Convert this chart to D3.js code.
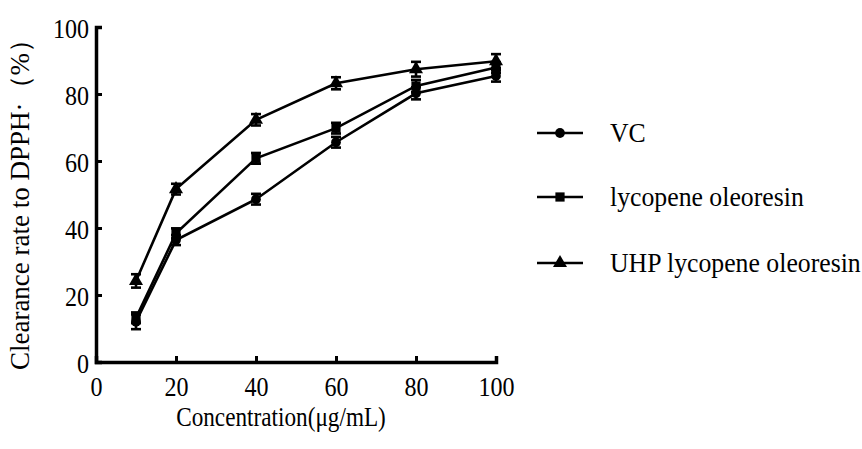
<!DOCTYPE html>
<html><head><meta charset="utf-8">
<script src="https://cdn.jsdelivr.net/npm/d3@7"></script>
<style>body{margin:0;background:#fff}svg{display:block}text{font-family:"Liberation Serif","Times New Roman",serif;fill:#000}</style>
</head><body>
<svg id="c" width="862" height="449"></svg>
<script>
const concentrations = [10, 20, 40, 60, 80, 100];
const seriesNames = ["VC", "lycopene oleoresin", "UHP lycopene oleoresin"];
const vcValues = [12, 36.4, 48.6, 65.6, 80.2, 85.4];
const vcErrors = [2.2, 1.5, 1.6, 1.6, 1.8, 1.7];
const lycValues = [13.2, 38.4, 60.8, 69.8, 82.4, 87.9];
const lycErrors = [1.6, 1.5, 1.6, 1.6, 1.8, 1.6];
const uhpValues = [24.2, 51.6, 72.3, 83.2, 87.4, 89.8];
const uhpErrors = [2.0, 1.6, 1.7, 1.8, 2.2, 2.1];
const xTicks = [0, 20, 40, 60, 80, 100];
const yTicks = [0, 20, 40, 60, 80, 100];

const series = [
  {name: seriesNames[0], values: vcValues, errors: vcErrors, shape: "circle"},
  {name: seriesNames[1], values: lycValues, errors: lycErrors, shape: "square"},
  {name: seriesNames[2], values: uhpValues, errors: uhpErrors, shape: "triangle"}
];

const svg = d3.select("#c");
const x = d3.scaleLinear().domain([0, 100]).range([96, 496]);
const y = d3.scaleLinear().domain([0, 100]).range([362, 27]);
const SX = 0.86;

const symbols = {
  circle: d3.symbol().type(d3.symbolCircle).size(75),
  square: d3.symbol().type(d3.symbolSquare).size(85),
  triangle: d3.symbol().type(d3.symbolTriangle).size(85)
};

// axes
const gx = svg.append("g").attr("transform", `translate(0,${y(0)})`)
  .call(d3.axisBottom(x).tickValues(xTicks).tickSize(-6).tickPadding(0).tickFormat(d3.format("d")));
const gy = svg.append("g").attr("transform", `translate(${x(0)},0)`)
  .call(d3.axisLeft(y).tickValues(yTicks).tickSize(-6).tickPadding(0).tickFormat(d3.format("d")));
[gx, gy].forEach(g => {
  g.select(".domain").attr("stroke", "#000").attr("stroke-width", 3.5);
  g.selectAll(".tick line").attr("stroke", "#000").attr("stroke-width", 3);
  g.selectAll(".tick text").attr("font-size", 28).attr("font-family", "Liberation Serif").attr("fill", "#000");
});
gx.selectAll(".tick text").attr("y", null).attr("dy", null)
  .attr("transform", `translate(0,34) scale(${SX},1)`);
gy.selectAll(".tick text").attr("x", null).attr("dy", null)
  .attr("transform", `translate(-7,10) scale(${SX},1)`);

// lines
const line = d3.line().x((d, i) => x(concentrations[i])).y(d => y(d));
series.forEach(s => {
  svg.append("path").attr("d", line(s.values)).attr("fill", "none")
    .attr("stroke", "#000").attr("stroke-width", 2.6);
  const g = svg.append("g");
  s.values.forEach((v, i) => {
    const cx = x(concentrations[i]);
    const top = y(v + s.errors[i]), bot = y(v - s.errors[i]);
    g.append("line").attr("x1", cx).attr("x2", cx).attr("y1", top).attr("y2", bot)
      .attr("stroke", "#000").attr("stroke-width", 2.6);
    [top, bot].forEach(yy => g.append("line").attr("x1", cx - 5).attr("x2", cx + 5)
      .attr("y1", yy).attr("y2", yy).attr("stroke", "#000").attr("stroke-width", 2.6));
    g.append("path").attr("d", symbols[s.shape]()).attr("transform", `translate(${cx},${y(v)})`).attr("fill", "#000");
  });
});

// legend
const legY = [133, 197, 263];
series.forEach((s, i) => {
  const g = svg.append("g").attr("transform", `translate(537,${legY[i]})`);
  g.append("line").attr("x1", 0).attr("x2", 46).attr("stroke", "#000").attr("stroke-width", 2.6);
  g.append("path").attr("d", symbols[s.shape]()).attr("transform", "translate(23,0)").attr("fill", "#000");
  g.append("text").attr("transform", `translate(73,9) scale(0.92,1)`).attr("font-size", 28).text(s.name);
});

// axis titles
svg.append("text").attr("transform", `translate(281,426) scale(${SX},1)`).attr("text-anchor", "middle")
  .attr("font-size", 27).text("Concentration(μg/mL)");
svg.append("text").attr("transform", "translate(29,198) rotate(-90)").attr("text-anchor", "middle")
  .attr("font-size", 27).text("Clearance rate to DPPH·（%）");
</script>
</body></html>
